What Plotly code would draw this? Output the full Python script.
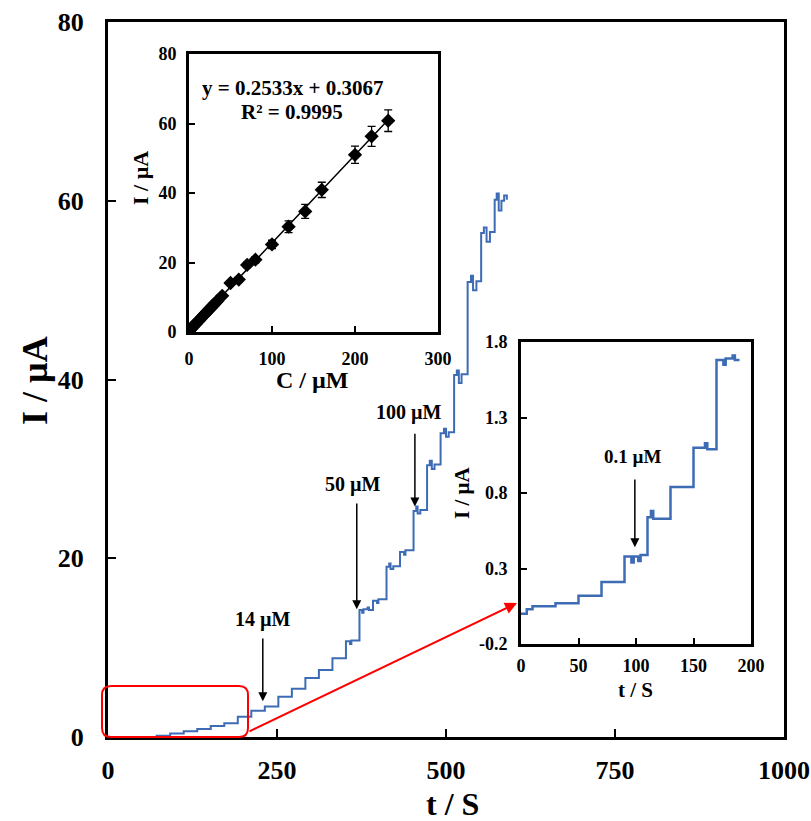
import plotly.graph_objects as go

# ---------------- data ----------------
# main amperometric trace: plateau start times (s) and plateau currents (uA)
main_step_t = [0, 72, 92, 112, 132, 152, 172, 192, 212, 232, 252, 272, 292, 312, 332,
               352, 372, 392, 412, 432, 452, 472, 492, 512, 532, 552, 572, 590]
main_step_I = [0.0, 0.15, 0.4, 0.63, 0.9, 1.23, 1.53, 2.27, 2.94, 3.4, 4.5, 5.4, 6.6, 7.5, 8.8,
               10.7, 14.2, 15.25, 19.05, 20.7, 25.3, 30.4, 34.0, 40.5, 50.9, 56.4, 60.1, 60.1]
# noise read on the plateaus (time, current)
main_noise_t = [358, 360, 376, 378, 384, 386, 398, 400, 416, 418, 422, 438, 440, 456, 458, 462,
                476, 479, 483, 497, 500, 504, 516, 519, 523, 537, 540, 545, 556, 560, 565,
                575, 578, 582, 586]
main_noise_I = [10.4, 10.8, 13.9, 14.3, 14.5, 14.2, 15.0, 15.4, 19.4, 18.8, 19.1, 20.4, 20.9,
                25.8, 25.0, 25.4, 30.9, 30.0, 30.5, 34.5, 33.6, 34.1, 41.0, 39.6, 40.6, 51.6,
                50.0, 51.0, 57.0, 55.4, 56.5, 60.8, 58.9, 60.0, 60.6]

# zoomed trace (first 200 s)
zoom_t = [0, 5, 10, 30, 50, 70, 90, 96, 98, 102, 104, 110, 113, 115, 130, 150, 160, 162,
          170, 176, 178, 184, 186, 190]
zoom_I = [0.0, 0.03, 0.05, 0.07, 0.12, 0.21, 0.38, 0.34, 0.38, 0.35, 0.39, 0.64, 0.68, 0.63,
          0.84, 1.10, 1.13, 1.09, 1.68, 1.65, 1.69, 1.71, 1.68, 1.68]

# calibration inset
cal_conc = [0, 0.1, 0.3, 0.6, 1, 1.5, 2, 3, 4, 5, 6, 8, 10, 12, 14, 16, 18, 20, 22, 24,
            26, 28, 30, 32, 34, 40, 50, 60, 70, 80, 100, 120, 140, 160, 200, 220, 240]
cal_curr = [0.15, 0.35, 0.4, 0.5, 0.6, 0.75, 0.9, 1.1, 1.35, 1.6, 1.9, 2.3, 2.9, 3.3, 3.8,
            4.4, 4.9, 5.4, 5.9, 6.4, 6.9, 7.4, 7.9, 8.4, 8.9, 10.4, 14.1, 15.1, 19.3, 20.8,
            25.2, 30.3, 34.7, 40.9, 51.0, 56.3, 60.8]
cal_err = [0.3] * 25 + [0.5, 0.6, 0.7, 0.8, 0.9, 1.2, 1.7, 2.0, 2.2, 2.5, 2.9, 3.1]
fit_slope = 0.2533
fit_intercept = 0.3067
fit_range = [0, 240]

main_xticks = [0, 250, 500, 750, 1000]
main_yticks = [0, 20, 40, 60, 80]
cal_xticks = [0, 100, 200, 300]
cal_yticks = [0, 20, 40, 60, 80]
zoom_xticks = [0, 50, 100, 150, 200]
zoom_yticks = [-0.2, 0.3, 0.8, 1.3, 1.8]
zoom_ylabels = ["-0.2", "0.3", "0.8", "1.3", "1.8"]

# ---------------- layout helpers ----------------
W, H = 811, 821
L, R, T, B = 108, 784, 22, 737  # plot area in page pixels
PW, PH = R - L, B - T


def px(xp):
    return (xp - L) / PW


def py(yp):
    return (B - yp) / PH


FONT = "Times New Roman, Liberation Serif, serif"
BLUE = "#3D6CB5"

# merge plateau corners and plateau noise into one step trace
pts = sorted(list(zip(main_step_t, main_step_I)) + list(zip(main_noise_t, main_noise_I)))
main_t = [p[0] for p in pts]
main_I = [p[1] for p in pts]

fig = go.Figure()

fig.add_trace(go.Scatter(x=main_t, y=main_I, mode="lines", line_shape="hv",
                         line=dict(color=BLUE, width=2), xaxis="x", yaxis="y",
                         showlegend=False, hoverinfo="skip"))

fit_y = [fit_slope * c + fit_intercept for c in fit_range]
fig.add_trace(go.Scatter(x=fit_range, y=fit_y, mode="lines", line=dict(color="black", width=1.5),
                         xaxis="x2", yaxis="y2", showlegend=False, hoverinfo="skip"))
fig.add_trace(go.Scatter(x=cal_conc, y=cal_curr, mode="markers",
                         marker=dict(symbol="diamond", size=11, color="black"),
                         error_y=dict(type="data", array=cal_err, color="black", thickness=1.3, width=4),
                         xaxis="x2", yaxis="y2", showlegend=False, hoverinfo="skip"))

fig.add_trace(go.Scatter(x=zoom_t, y=zoom_I, mode="lines", line_shape="hv",
                         line=dict(color=BLUE, width=2.5), xaxis="x3", yaxis="y3",
                         showlegend=False, hoverinfo="skip"))

tickfont_main = dict(family=FONT, size=26, color="black")
tickfont_in = dict(family=FONT, size=18, color="black")


def axis(rng, ticks, labels, domain, anchor, font, tl=8, stand=0):
    return dict(range=rng, tickvals=ticks, ticktext=["<b>" + s + "</b>" for s in labels],
                domain=domain, anchor=anchor, showline=True, linewidth=3, linecolor="black",
                mirror=True, ticks="inside", ticklen=tl, tickwidth=2, tickcolor="black",
                showgrid=False, zeroline=False, tickfont=font, fixedrange=True,
                automargin=False, ticklabelstandoff=stand)


def lab(ticks):
    return [str(t) for t in ticks]


cal_dom_x = [px(189), px(438)]
cal_dom_y = [py(332), py(54)]
zoom_dom_x = [px(521), px(751)]
zoom_dom_y = [py(644), py(342)]

fig.update_layout(
    width=W, height=H,
    margin=dict(l=L, r=W - R, t=T, b=H - B, autoexpand=False),
    paper_bgcolor="white", plot_bgcolor="white",
    font=dict(family=FONT, color="black"),
    hovermode=False,
    xaxis=axis([0, 1000], main_xticks, lab(main_xticks), [0, 1], "y", tickfont_main, 8, 8),
    yaxis=axis([0, 80], main_yticks, lab(main_yticks), [0, 1], "x", tickfont_main, 8, 16),
    xaxis2=axis([0, 300], cal_xticks, lab(cal_xticks), cal_dom_x, "y2", tickfont_in, 6, 8),
    yaxis2=axis([0, 80], cal_yticks, lab(cal_yticks), cal_dom_y, "x2", tickfont_in, 6, 6),
    xaxis3=axis([0, 200], zoom_xticks, lab(zoom_xticks), zoom_dom_x, "y3", tickfont_in, 6, 3),
    yaxis3=axis([-0.2, 1.8], zoom_yticks, zoom_ylabels, zoom_dom_y, "x3", tickfont_in, 6, 7),
)

ann = []


def text(xp, yp, s, size, angle=0):
    ann.append(dict(x=px(xp), y=py(yp), xref="paper", yref="paper", text=s, showarrow=False,
                    xanchor="center", yanchor="middle", textangle=angle,
                    font=dict(family=FONT, size=size, color="black")))


# axis titles
text(35, 381, "<b>I / µA</b>", 36, -90)
text(452, 804, "<b>t / S</b>", 32)
text(141, 178, "<b>I / µA</b>", 22, -90)
text(312, 380, "<b>C / µM</b>", 24)
text(462, 493, "<b>I / µA</b>", 21, -90)
text(635, 690, "<b>t / S</b>", 21)
# fit equation
text(292, 88, "<b>y = 0.2533x + 0.3067</b>", 21)
text(292, 112, "<b>R² = 0.9995</b>", 21)

# concentration labels with arrows (main)
labels_main = [("14 µM", 229, 13.1, 11.2, 4.0),
               ("50 µM", 362, 28.2, 26.3, 14.3),
               ("100 µM", 445, 36.3, 34.1, 25.8)]
arrow_x = [229, 368, 454]
for (s, tx, ty, tail, tip), ax_ in zip(labels_main, arrow_x):
    ann.append(dict(x=tx, y=ty, xref="x", yref="y", text="<b>" + s + "</b>", showarrow=False,
                    font=dict(family=FONT, size=20, color="black")))
    ann.append(dict(x=ax_, y=tip, ax=ax_, ay=tail, xref="x", yref="y", axref="x", ayref="y",
                    text="", showarrow=True, arrowhead=2, arrowsize=1.2, arrowwidth=1.5,
                    arrowcolor="black"))

# zoom inset label
ann.append(dict(x=97, y=1.04, xref="x3", yref="y3", text="<b>0.1 µM</b>", showarrow=False,
                font=dict(family=FONT, size=19, color="black")))
ann.append(dict(x=99, y=0.44, ax=99, ay=0.9, xref="x3", yref="y3", axref="x3", ayref="y3",
                text="", showarrow=True, arrowhead=2, arrowsize=1.2, arrowwidth=1.5,
                arrowcolor="black"))

# red connector arrow (main subplot domain == plot area)
ann.append(dict(x=px(517), y=py(603), ax=px(248), ay=py(732), xref="x domain", yref="y domain",
                axref="x domain", ayref="y domain", text="", showarrow=True, arrowhead=2,
                arrowsize=1.2, arrowwidth=2, arrowcolor="#FF0000"))

fig.update_layout(annotations=ann)

# red rounded rectangle around the zoomed region
x0, x1, y0, y1 = px(102), px(248), py(737), py(686)
rx, ry = 9 / PW, 9 / PH
path = (f"M {x0+rx},{y0} L {x1-rx},{y0} Q {x1},{y0} {x1},{y0+ry} L {x1},{y1-ry} "
        f"Q {x1},{y1} {x1-rx},{y1} L {x0+rx},{y1} Q {x0},{y1} {x0},{y1-ry} "
        f"L {x0},{y0+ry} Q {x0},{y0} {x0+rx},{y0} Z")
fig.add_shape(type="path", path=path, xref="paper", yref="paper",
              line=dict(color="#FF0000", width=2), fillcolor="rgba(0,0,0,0)")

# remove the default page margin so the figure fills the window exactly
fig.write_html("out.html", config={"displayModeBar": False, "staticPlot": True},
               post_script="document.body.style.margin='0';document.body.style.overflow='hidden';")
